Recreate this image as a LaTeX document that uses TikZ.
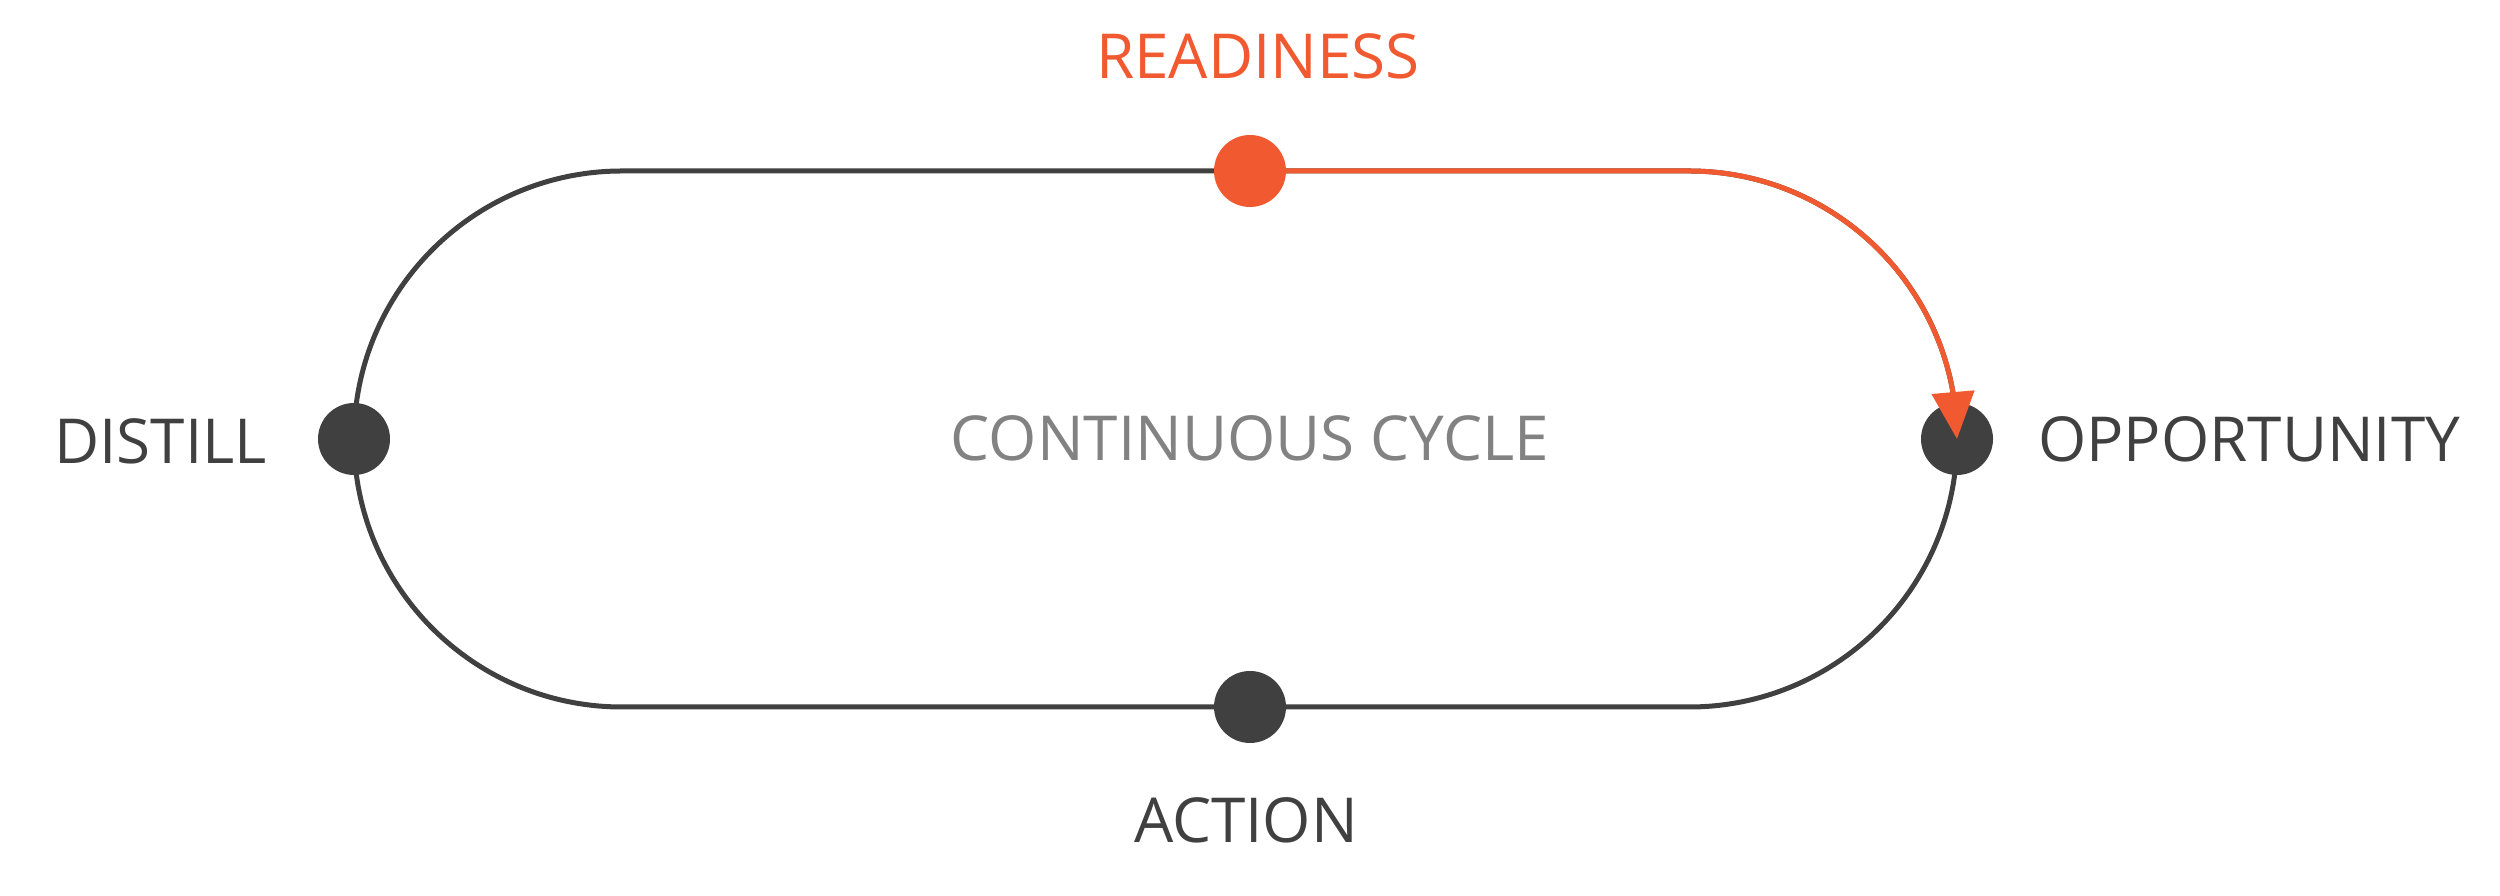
\documentclass[tikz,border=0pt]{standalone}
\usepackage{fontspec}
\setmainfont{Open Sans}
\usetikzlibrary{arrows.meta, bending}
\definecolor{darkgrey}{HTML}{404040}
\definecolor{midgrey}{HTML}{828282}
\definecolor{readyorange}{HTML}{F15A31}

\begin{document}
\begin{tikzpicture}[x=1pt, y=1pt,
    cycledot/.style = {circle, fill=#1, minimum size=72pt, inner sep=0pt},
    cyclelabel/.style = {inner sep=0pt, text=#1, font=\fontsize{62}{70}\selectfont}]
    \useasboundingbox (0,0) rectangle (2500,896);
    % track
    \coordinate (topright) at (1689,725);
    \draw [line width=5pt, darkgrey] (622,725) -- (1689,725) arc (90:-90:268) -- (622,189) arc (270:90:268) -- cycle;
    \node [cycledot=darkgrey] (distill) at (354,457) {};
    \node [cycledot=darkgrey] (action) at (1250,189) {};
    \node [cycledot=darkgrey] (opp) at (1957,457) {};
    \draw [line width=5pt, readyorange, -{Triangle[length=47pt, width=42pt, flex]}]
      (1250,725) -- (topright) .. controls +(148,0) and +(0,148) .. (opp.center);
    \node [cycledot=readyorange] (ready) at (1250,725) {};
    % labels
    \node [cyclelabel=readyorange] (readytext) at (1258,840) {READINESS};
    \node [cyclelabel=darkgrey] (actiontext) at (1246,76) {ACTION};
    \node [cyclelabel=darkgrey, anchor=east] (distilltext) at (267,455) {DISTILL};
    \node [cyclelabel=darkgrey, anchor=west] (opptext) at (2038,457) {OPPORTUNITY};
    \node [cyclelabel=midgrey] (centretext) at (1250,458) {CONTINUOUS CYCLE};
\end{tikzpicture}
\end{document}
